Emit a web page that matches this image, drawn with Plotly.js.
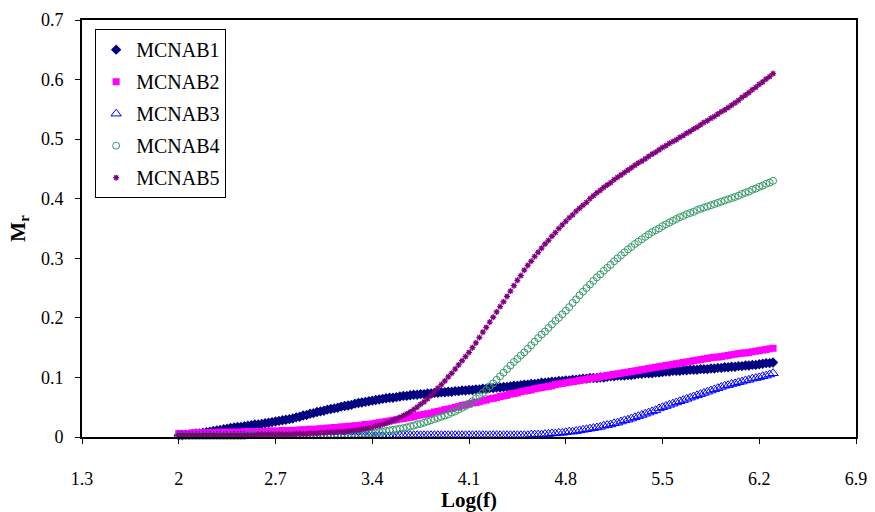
<!DOCTYPE html>
<html><head><meta charset="utf-8">
<script src="https://cdn.plot.ly/plotly-3.0.1.min.js"></script>
<style>html,body{margin:0;padding:0;background:#fff}#chart{width:875px;height:512px}</style>
</head><body><div id="chart"></div>
<script>
// Log(f) values (~0.025 spacing)
const logf = [
2.000,2.025,2.050,2.075,2.100,2.125,2.150,2.175,
2.200,2.225,2.250,2.275,2.300,2.325,2.350,2.375,
2.400,2.425,2.450,2.475,2.500,2.525,2.550,2.575,
2.600,2.625,2.650,2.675,2.700,2.725,2.750,2.775,
2.800,2.825,2.850,2.875,2.900,2.925,2.950,2.975,
3.000,3.025,3.050,3.075,3.100,3.125,3.150,3.175,
3.200,3.225,3.250,3.275,3.300,3.325,3.350,3.375,
3.400,3.425,3.450,3.475,3.500,3.525,3.550,3.575,
3.600,3.625,3.650,3.675,3.700,3.725,3.750,3.775,
3.800,3.825,3.850,3.875,3.900,3.925,3.950,3.975,
4.000,4.025,4.050,4.075,4.100,4.125,4.150,4.175,
4.200,4.225,4.250,4.275,4.300,4.325,4.350,4.375,
4.400,4.425,4.450,4.475,4.500,4.525,4.550,4.575,
4.600,4.625,4.650,4.675,4.700,4.725,4.750,4.775,
4.800,4.825,4.850,4.875,4.900,4.925,4.950,4.975,
5.000,5.025,5.050,5.075,5.100,5.125,5.150,5.175,
5.200,5.225,5.250,5.275,5.300,5.325,5.350,5.375,
5.400,5.425,5.450,5.475,5.500,5.525,5.550,5.575,
5.600,5.625,5.650,5.675,5.700,5.725,5.750,5.775,
5.800,5.825,5.850,5.875,5.900,5.925,5.950,5.975,
6.000,6.025,6.050,6.075,6.100,6.125,6.150,6.175,
6.200,6.225,6.250,6.275,6.300];

const mcnab1 = [
.003,.003,.004,.004,.005,.006,.006,.007,
.008,.009,.010,.011,.012,.013,.014,.015,
.016,.017,.017,.018,.019,.020,.021,.021,
.022,.023,.024,.025,.026,.027,.028,.029,
.030,.031,.033,.034,.036,.037,.039,.040,
.042,.043,.044,.046,.047,.048,.049,.051,
.052,.053,.054,.056,.057,.058,.059,.060,
.061,.062,.063,.064,.065,.066,.066,.067,
.068,.069,.069,.070,.071,.071,.072,.072,
.073,.073,.074,.074,.075,.075,.076,.076,
.077,.077,.078,.078,.079,.079,.080,.080,
.081,.081,.082,.082,.083,.083,.084,.084,
.085,.086,.086,.087,.088,.088,.089,.089,
.090,.091,.091,.092,.093,.093,.094,.094,
.095,.095,.096,.096,.097,.098,.098,.099,
.099,.099,.100,.100,.101,.102,.102,.103,
.103,.103,.104,.104,.105,.106,.106,.107,
.107,.107,.108,.108,.109,.110,.110,.111,
.111,.111,.112,.112,.113,.113,.113,.114,
.114,.114,.115,.115,.116,.116,.117,.117,
.118,.118,.119,.119,.120,.120,.121,.121,
.122,.123,.124,.124,.125];

const mcnab2 = [
.006,.006,.006,.006,.007,.007,.007,.007,
.007,.007,.007,.008,.008,.008,.008,.008,
.008,.008,.008,.009,.009,.009,.009,.009,
.009,.009,.010,.010,.010,.010,.011,.011,
.011,.011,.011,.012,.012,.012,.013,.013,
.013,.014,.014,.015,.015,.016,.016,.017,
.017,.018,.018,.019,.019,.020,.021,.021,
.022,.023,.024,.025,.026,.027,.028,.029,
.030,.031,.032,.033,.034,.036,.037,.038,
.039,.040,.042,.043,.044,.046,.047,.048,
.050,.051,.053,.054,.055,.057,.058,.059,
.061,.062,.064,.065,.066,.068,.069,.070,
.072,.073,.074,.076,.077,.078,.079,.081,
.082,.083,.084,.085,.086,.088,.089,.090,
.091,.092,.093,.094,.095,.096,.097,.098,
.099,.100,.101,.102,.103,.104,.105,.106,
.107,.108,.109,.110,.111,.112,.113,.114,
.115,.116,.117,.118,.119,.120,.121,.122,
.123,.124,.125,.126,.127,.128,.129,.130,
.131,.132,.133,.134,.134,.135,.136,.137,
.138,.139,.140,.141,.141,.142,.143,.144,
.145,.146,.147,.148,.149];

const mcnab3 = [
.002,.002,.002,.002,.002,.002,.002,.002,
.002,.002,.002,.002,.002,.002,.002,.002,
.002,.002,.002,.002,.002,.002,.002,.002,
.002,.002,.002,.002,.002,.002,.002,.002,
.002,.002,.002,.002,.002,.002,.002,.002,
.002,.002,.002,.002,.002,.002,.002,.002,
.002,.002,.002,.002,.002,.002,.002,.002,
.002,.002,.002,.002,.002,.002,.002,.002,
.003,.003,.003,.003,.003,.003,.003,.003,
.003,.003,.003,.003,.003,.003,.003,.003,
.003,.003,.003,.003,.003,.003,.003,.003,
.003,.003,.003,.003,.003,.003,.003,.003,
.003,.003,.003,.003,.003,.003,.004,.004,
.004,.004,.005,.005,.006,.006,.007,.007,
.008,.009,.009,.010,.011,.012,.013,.014,
.015,.016,.017,.019,.020,.021,.023,.024,
.026,.028,.029,.031,.033,.035,.037,.039,
.041,.043,.045,.048,.050,.052,.054,.056,
.058,.060,.062,.064,.066,.068,.070,.072,
.074,.076,.078,.080,.082,.084,.086,.087,
.089,.090,.092,.093,.095,.096,.098,.099,
.100,.102,.103,.105,.107];

const mcnab4 = [
.002,.002,.002,.002,.002,.002,.002,.002,
.002,.002,.002,.002,.002,.002,.002,.002,
.002,.002,.002,.002,.003,.003,.003,.003,
.003,.003,.003,.003,.003,.003,.003,.003,
.003,.003,.003,.003,.003,.003,.003,.003,
.003,.003,.003,.003,.003,.003,.003,.003,
.003,.003,.004,.004,.004,.005,.005,.006,
.006,.007,.008,.009,.010,.011,.012,.013,
.014,.015,.016,.018,.019,.021,.022,.024,
.026,.028,.030,.032,.034,.036,.038,.041,
.043,.046,.049,.052,.056,.060,.065,.069,
.074,.079,.085,.090,.096,.102,.108,.114,
.120,.126,.131,.137,.142,.148,.154,.160,
.166,.172,.177,.183,.189,.195,.200,.206,
.212,.218,.225,.231,.238,.244,.250,.256,
.262,.268,.273,.279,.284,.289,.295,.300,
.305,.310,.315,.319,.324,.328,.332,.336,
.340,.344,.347,.350,.354,.357,.360,.363,
.366,.369,.371,.374,.376,.378,.381,.383,
.385,.387,.389,.391,.393,.395,.397,.399,
.401,.403,.405,.408,.410,.412,.415,.417,
.420,.422,.425,.427,.430];

const mcnab5 = [
.003,.003,.003,.003,.003,.003,.003,.003,
.003,.003,.003,.003,.003,.003,.003,.003,
.003,.003,.003,.003,.003,.003,.003,.004,
.004,.004,.004,.004,.004,.004,.004,.004,
.004,.004,.005,.005,.005,.005,.006,.006,
.006,.007,.007,.008,.008,.008,.009,.009,
.009,.010,.011,.011,.012,.013,.014,.015,
.016,.018,.019,.021,.023,.025,.028,.030,
.033,.036,.039,.042,.046,.050,.055,.059,
.064,.070,.076,.082,.088,.094,.101,.107,
.114,.121,.128,.135,.142,.150,.158,.167,
.176,.184,.193,.201,.210,.219,.227,.236,
.245,.254,.263,.271,.280,.288,.295,.303,
.310,.317,.324,.330,.337,.343,.350,.356,
.362,.368,.373,.379,.384,.389,.394,.400,
.405,.410,.414,.419,.423,.427,.432,.436,
.440,.444,.448,.452,.456,.460,.463,.467,
.471,.475,.478,.482,.486,.489,.493,.496,
.499,.503,.506,.510,.513,.517,.520,.524,
.528,.531,.535,.538,.542,.546,.549,.553,
.557,.561,.565,.570,.574,.578,.583,.587,
.592,.596,.601,.605,.610];

const seriesNames = ['MCNAB1','MCNAB2','MCNAB3','MCNAB4','MCNAB5'];
const xTicks = [1.3,2,2.7,3.4,4.1,4.8,5.5,6.2,6.9];
const xTickText = ['1.3','2','2.7','3.4','4.1','4.8','5.5','6.2','6.9'];
const yTicks = [0,0.1,0.2,0.3,0.4,0.5,0.6,0.7];
const yTickText = ['0','0.1','0.2','0.3','0.4','0.5','0.6','0.7'];

const ys = [mcnab1,mcnab2,mcnab3,mcnab4,mcnab5];
const markers = [
  {symbol:'diamond', size:8, color:'#000080', line:{width:0}},
  {symbol:'square', size:7, color:'#FF00FF', line:{width:0}},
  {symbol:'triangle-up-open', size:9, color:'#0000FF', line:{width:1, color:'#0000FF'}},
  {symbol:'circle-open', size:7, color:'#339966', line:{width:1, color:'#339966'}},
  {symbol:'asterisk-open', size:5, color:'#800080', line:{width:1.3, color:'#800080'}}
];
const traces = ys.map((y,i)=>({
  x: logf, y: y, name: seriesNames[i], type:'scatter', mode:'markers',
  marker: markers[i], legendgroup: 'g'+i, cliponaxis:false
}));

const font = 'Liberation Serif, serif';
const layout = {
  width:875, height:512,
  margin:{l:82, r:19, t:20, b:75},
  paper_bgcolor:'#fff', plot_bgcolor:'#fff',
  font:{family:font, size:18, color:'#000'},
  showlegend:true,
  legend:{x:0.017, y:0.978, xanchor:'left', yanchor:'top',
    bordercolor:'#000', borderwidth:1, bgcolor:'#fff',
    font:{family:font, size:20, color:'#000'},
    traceorder:'grouped', tracegroupgap:3, itemwidth:30},
  xaxis:{range:[1.3,6.9], tickmode:'array', tickvals:xTicks, ticktext:xTickText,
    showgrid:false, zeroline:false, showline:true, linecolor:'#000', linewidth:2, mirror:true,
    ticks:'outside', ticklen:5, tickwidth:1, tickcolor:'#000', ticklabelstandoff:19,
    tickfont:{family:font, size:18},
    title:{text:'<b>Log(f)</b>', font:{family:font, size:21}, standoff:0}},
  yaxis:{range:[0,0.7], tickmode:'array', tickvals:yTicks, ticktext:yTickText,
    showgrid:false, zeroline:false, showline:true, linecolor:'#000', linewidth:2, mirror:true,
    ticks:'outside', ticklen:5, tickwidth:1, tickcolor:'#000', ticklabelstandoff:8,
    tickfont:{family:font, size:18},
    title:{text:'<b>M<sub>r</sub></b>', font:{family:font, size:21}, standoff:10}}
};
Plotly.newPlot('chart', traces, layout, {displayModeBar:false, staticPlot:true});
</script></body></html>
